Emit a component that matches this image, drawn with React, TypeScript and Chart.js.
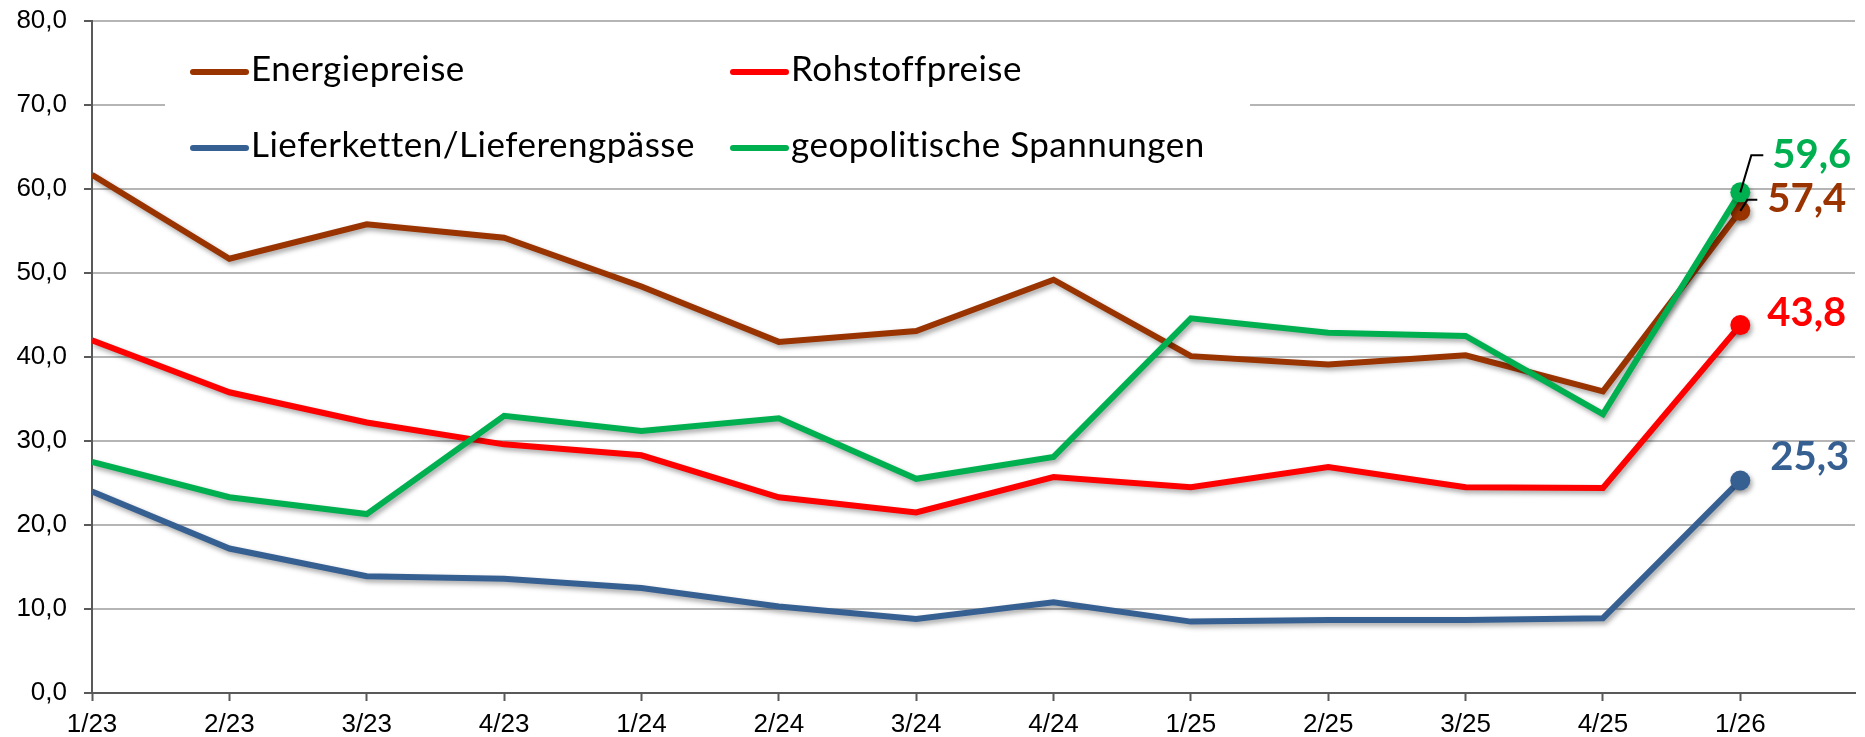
import React, { useEffect, useRef } from 'react';
import { Chart, registerables } from 'chart.js';

Chart.register(...registerables);

const categories = ['1/23', '2/23', '3/23', '4/23', '1/24', '2/24', '3/24', '4/24', '1/25', '2/25', '3/25', '4/25', '1/26'];
const energiepreise = [61.7, 51.7, 55.8, 54.2, 48.4, 41.8, 43.1, 49.2, 40.1, 39.1, 40.2, 35.9, 57.4];
const rohstoffpreise = [42.0, 35.8, 32.2, 29.6, 28.3, 23.3, 21.5, 25.7, 24.5, 26.9, 24.5, 24.4, 43.8];
const lieferketten = [24.0, 17.2, 13.9, 13.6, 12.5, 10.3, 8.8, 10.8, 8.5, 8.7, 8.7, 8.9, 25.3];
const geopolitik = [27.5, 23.3, 21.3, 33.0, 31.2, 32.7, 25.5, 28.1, 44.6, 42.9, 42.5, 33.2, 59.6];
const seriesNames = ['Energiepreise', 'Rohstoffpreise', 'Lieferketten/Lieferengpässe', 'geopolitische Spannungen'];
const yTicks = [0, 10, 20, 30, 40, 50, 60, 70, 80];

const COLORS = ['#993300', '#FF0000', '#376092', '#00B050'];

const fmt = (v: number) => v.toFixed(1).replace('.', ',');

const shadowPlugin = {
  id: 'lineShadow',
  beforeDatasetDraw(chart: any) {
    const c = chart.ctx;
    c.save();
    c.shadowColor = 'rgba(0,0,0,0.35)';
    c.shadowBlur = 5;
    c.shadowOffsetX = 2;
    c.shadowOffsetY = 3;
  },
  afterDatasetDraw(chart: any) {
    chart.ctx.restore();
  },
};

const legendPlugin = {
  id: 'customLegend',
  beforeDatasetsDraw(chart: any) {
    const c = chart.ctx;
    c.save();
    c.fillStyle = '#ffffff';
    c.fillRect(165, 36, 1085, 136);
    const pos = [
      { x: 193, y: 72 },
      { x: 733, y: 72 },
      { x: 193, y: 148 },
      { x: 733, y: 148 },
    ];
    seriesNames.forEach((name, i) => {
      const p = pos[i];
      c.strokeStyle = COLORS[i];
      c.lineWidth = 6;
      c.lineCap = 'round';
      c.beginPath();
      c.moveTo(p.x, p.y);
      c.lineTo(p.x + 53, p.y);
      c.stroke();
      c.fillStyle = '#000';
      c.font = '35px Lato';
      try {
        (c as any).letterSpacing = '0.5px';
      } catch (e) {}
      c.textBaseline = 'alphabetic';
      c.textAlign = 'left';
      c.fillText(name, p.x + 58, p.y + 9);
    });
    c.restore();
  },
};

const endLabelPlugin = {
  id: 'endLabels',
  afterDatasetsDraw(chart: any) {
    const c = chart.ctx;
    c.save();
    const offs: Record<number, { dx: number; dy: number; leader?: number[][] }> = {
      0: { dx: 27, dy: -12, leader: [[0, 0], [7, -11], [17, -11]] },
      1: { dx: 27, dy: -12 },
      2: { dx: 30, dy: -23 },
      3: { dx: 32, dy: -37, leader: [[0, 0], [11, -37], [23, -37]] },
    };
    chart.data.datasets.forEach((ds: any, i: number) => {
      const meta = chart.getDatasetMeta(i);
      const pt = meta.data[meta.data.length - 1];
      if (!pt) return;
      const o = offs[i];
      if (o.leader) {
        c.strokeStyle = '#000';
        c.lineWidth = 2;
        c.lineCap = 'butt';
        c.beginPath();
        o.leader.forEach((q, k) => {
          if (k === 0) c.moveTo(pt.x + q[0], pt.y + q[1]);
          else c.lineTo(pt.x + q[0], pt.y + q[1]);
        });
        c.stroke();
      }
      const v = ds.data[ds.data.length - 1].y;
      c.fillStyle = COLORS[i];
      c.font = 'bold 40px Lato';
      c.textAlign = 'left';
      c.textBaseline = 'middle';
      c.fillText(fmt(v), pt.x + o.dx, pt.y + o.dy);
    });
    c.restore();
  },
};

export default function App() {
  const ref = useRef<HTMLCanvasElement | null>(null);

  useEffect(() => {
    if (!ref.current) return;
    const all = [energiepreise, rohstoffpreise, lieferketten, geopolitik];
    const orders = [1, 2, 3, 0];
    const chart = new Chart(ref.current, {
      type: 'line',
      data: {
        datasets: all.map((arr, i) => ({
          label: seriesNames[i],
          data: arr.map((y, x) => ({ x, y })),
          borderColor: COLORS[i],
          backgroundColor: COLORS[i],
          borderWidth: 6,
          tension: 0,
          fill: false,
          order: orders[i],
          pointRadius: (ctx: any) => (ctx.dataIndex === arr.length - 1 ? 10 : 0),
          pointHoverRadius: (ctx: any) => (ctx.dataIndex === arr.length - 1 ? 10 : 0),
          pointBorderWidth: 0,
          borderJoinStyle: 'miter' as const,
        })),
      },
      options: {
        responsive: false,
        animation: false,
        devicePixelRatio: 1,
        layout: { padding: { top: 21, left: 0, right: 0, bottom: 0 } },
        plugins: {
          legend: { display: false },
          tooltip: { enabled: false },
        },
        scales: {
          x: {
            type: 'linear',
            min: 0,
            max: 12.835,
            afterFit: (s: any) => {
              s.height = 44;
            },
            ticks: {
              stepSize: 1,
              includeBounds: false,
              autoSkip: false,
              maxRotation: 0,
              padding: 8,
              color: '#000',
              font: { family: 'Liberation Sans', size: 26 },
              callback: (v: any) => categories[v as number] ?? '',
            },
            grid: {
              drawOnChartArea: false,
              drawTicks: true,
              tickLength: 8,
              tickColor: '#595959',
              tickWidth: 2,
            },
            border: { color: '#595959', width: 2 },
          },
          y: {
            min: yTicks[0],
            max: yTicks[yTicks.length - 1],
            afterFit: (s: any) => {
              s.width = 92;
              s.paddingTop = 0;
              s.paddingBottom = 0;
            },
            ticks: {
              stepSize: 10,
              padding: 17,
              color: '#000',
              font: { family: 'Liberation Sans', size: 26 },
              callback: (v: any) => fmt(Number(v)),
            },
            grid: {
              color: '#b5b5b5',
              lineWidth: 2,
              tickLength: 8,
              tickColor: '#595959',
              tickWidth: 2,
            },
            border: { color: '#595959', width: 2 },
          },
        },
      },
      plugins: [shadowPlugin, legendPlugin, endLabelPlugin],
    });
    return () => chart.destroy();
  }, []);

  return (
    <div style={{ position: 'absolute', left: 0, top: 0, width: 1865, height: 737, background: '#fff' }}>
      <canvas ref={ref} width={1865} height={737} style={{ display: 'block', width: 1865, height: 737 }} />
    </div>
  );
}
